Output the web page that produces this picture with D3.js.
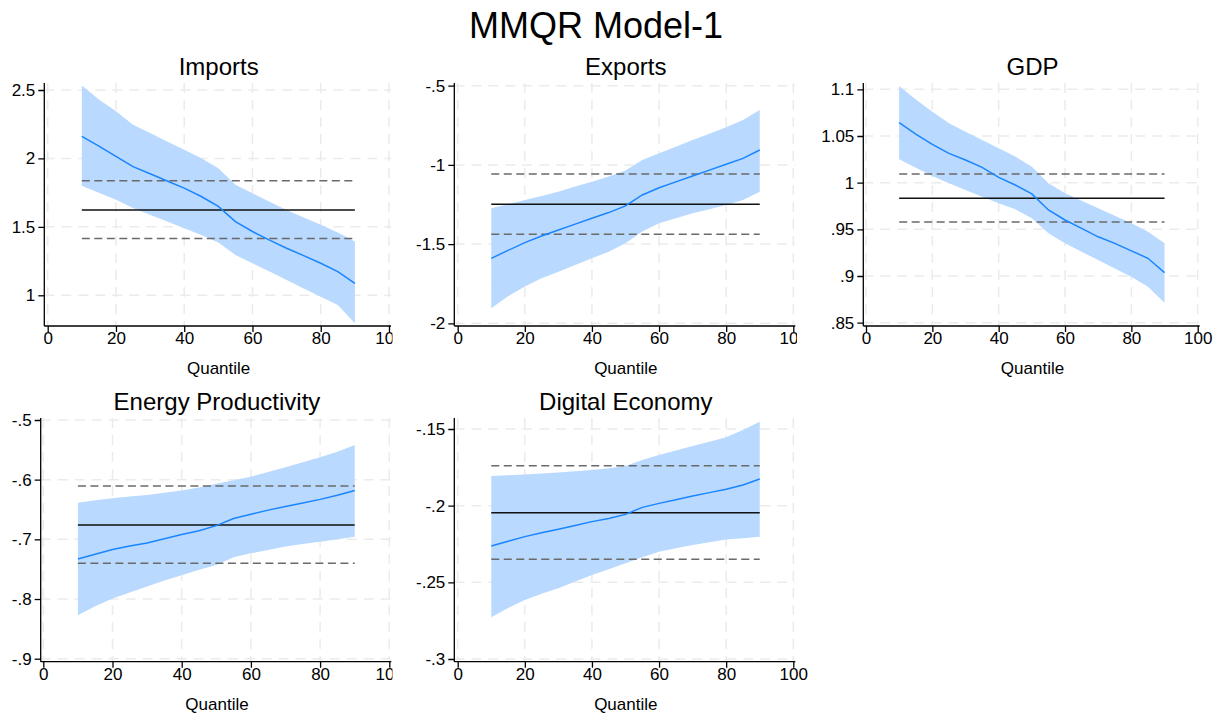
<!DOCTYPE html>
<html>
  <head>
    <meta charset="utf-8">
    <style>
      body { margin: 0; background: #fff; }
      text { font-family: "Liberation Sans", Arial, sans-serif; fill: #000; }
    </style>
  </head>
  <body>
    <script src="https://cdn.jsdelivr.net/npm/d3@7"></script>
    <script>
      // quantiles and estimates
      var quantiles = [10, 15, 20, 25, 30, 35, 40, 45, 50, 55, 60, 65, 70, 75, 80, 85, 90];
      var xTicks = [0, 20, 40, 60, 80, 100];

      var importsCoef = [2.161, 2.09, 2.015, 1.94, 1.888, 1.835, 1.783, 1.722, 1.649, 1.539, 1.466, 1.403, 1.344, 1.29, 1.234, 1.173, 1.088];
      var importsHi = [2.532, 2.43, 2.344, 2.246, 2.185, 2.124, 2.063, 2.002, 1.929, 1.807, 1.746, 1.684, 1.624, 1.568, 1.515, 1.459, 1.393];
      var importsLo = [1.80, 1.75, 1.698, 1.637, 1.588, 1.54, 1.49, 1.441, 1.385, 1.295, 1.234, 1.173, 1.112, 1.05, 0.99, 0.929, 0.795];
      var importsOls = [1.624, 1.415, 1.837];
      var importsTicks = [1, 1.5, 2, 2.5];

      var exportsCoef = [-1.590, -1.54, -1.491, -1.449, -1.411, -1.374, -1.337, -1.301, -1.259, -1.19, -1.144, -1.107, -1.07, -1.033, -0.996, -0.959, -0.906];
      var exportsHi = [-1.274, -1.248, -1.222, -1.196, -1.169, -1.137, -1.106, -1.074, -1.036, -0.969, -0.927, -0.885, -0.843, -0.803, -0.763, -0.717, -0.654];
      var exportsLo = [-1.905, -1.83, -1.768, -1.716, -1.674, -1.632, -1.590, -1.548, -1.495, -1.421, -1.368, -1.337, -1.306, -1.28, -1.253, -1.222, -1.169];
      var exportsOls = [-1.249, -1.438, -1.057];
      var exportsTicks = [-2, -1.5, -1, -0.5];

      var gdpCoef = [1.0643, 1.052, 1.041, 1.0314, 1.0243, 1.0164, 1.0057, 0.9975, 0.9879, 0.9707, 0.96, 0.951, 0.942, 0.935, 0.927, 0.919, 0.9036];
      var gdpHi = [1.1036, 1.089, 1.076, 1.0636, 1.0546, 1.0457, 1.0368, 1.0279, 1.0171, 0.9993, 0.9886, 0.9805, 0.9725, 0.9645, 0.9564, 0.9475, 0.935];
      var gdpLo = [1.025, 1.016, 1.0071, 0.9993, 0.9921, 0.985, 0.9779, 0.9714, 0.9618, 0.9457, 0.935, 0.926, 0.9171, 0.908, 0.8993, 0.8886, 0.8714];
      var gdpOls = [0.9832, 0.9579, 1.0093];
      var gdpTicks = [0.85, 0.9, 0.95, 1, 1.05, 1.1];

      var energyCoef = [-0.733, -0.725, -0.717, -0.711, -0.706, -0.699, -0.692, -0.6855, -0.677, -0.665, -0.658, -0.651, -0.645, -0.639, -0.633, -0.626, -0.618];
      var energyHi = [-0.6385, -0.6345, -0.631, -0.628, -0.6257, -0.622, -0.618, -0.613, -0.607, -0.601, -0.595, -0.587, -0.579, -0.571, -0.5626, -0.553, -0.542];
      var energyLo = [-0.827, -0.812, -0.799, -0.789, -0.779, -0.769, -0.760, -0.751, -0.743, -0.730, -0.7235, -0.718, -0.712, -0.708, -0.704, -0.700, -0.6955];
      var energyOls = [-0.676, -0.740, -0.6106];
      var energyTicks = [-0.9, -0.8, -0.7, -0.6, -0.5];

      var digitalCoef = [-0.2263, -0.2232, -0.2202, -0.2177, -0.2154, -0.2129, -0.2104, -0.2083, -0.2057, -0.2011, -0.1985, -0.1961, -0.1937, -0.1915, -0.1893, -0.1865, -0.1826];
      var digitalHi = [-0.1807, -0.1801, -0.1796, -0.179, -0.1783, -0.1775, -0.1767, -0.1756, -0.1741, -0.1702, -0.167, -0.164, -0.1611, -0.1583, -0.1554, -0.1507, -0.1452];
      var digitalLo = [-0.2728, -0.2668, -0.2615, -0.2575, -0.2539, -0.2495, -0.2452, -0.2414, -0.2376, -0.2337, -0.230, -0.2278, -0.2257, -0.2238, -0.222, -0.2213, -0.2202];
      var digitalOls = [-0.2046, -0.235, -0.1739];
      var digitalTicks = [-0.3, -0.25, -0.2, -0.15];

      // Stata style labels: drop leading zero
      function fmt(v) {
        var s = String(+v.toFixed(3));
        return s.replace(/^(-?)0\./, '$1.');
      }

      var svg = d3.select('body').append('svg')
        .attr('width', 1220).attr('height', 713);

      svg.append('text')
        .attr('x', 596).attr('y', 38)
        .attr('text-anchor', 'middle')
        .style('font-size', '36px')
        .text('MMQR Model-1');

      // layout of each panel (pixel frame)
      var panels = [
        { title: 'Imports', coef: importsCoef, hi: importsHi, lo: importsLo, ols: importsOls, ticks: importsTicks,
          ax: 44.3, x0: 47.7, x100: 389, top: 83, bottom: 326, clipR: 392.5, yA: [1, 295.3], yB: [2.5, 90], titleY: 75 },
        { title: 'Exports', coef: exportsCoef, hi: exportsHi, lo: exportsLo, ols: exportsOls, ticks: exportsTicks,
          ax: 454.3, x0: 457.7, x100: 793.3, top: 83, bottom: 326, clipR: 797, yA: [-2, 323.3], yB: [-0.5, 85.7], titleY: 75 },
        { title: 'GDP', coef: gdpCoef, hi: gdpHi, lo: gdpLo, ols: gdpOls, ticks: gdpTicks,
          ax: 863.3, x0: 866, x100: 1197.7, top: 83, bottom: 326, clipR: 1220, yA: [0.85, 322.7], yB: [1.1, 89.3], titleY: 75 },
        { title: 'Energy Productivity', coef: energyCoef, hi: energyHi, lo: energyLo, ols: energyOls, ticks: energyTicks,
          ax: 40.7, x0: 43.3, x100: 389.3, top: 418, bottom: 661.7, clipR: 392.5, yA: [-0.9, 658.7], yB: [-0.5, 420], titleY: 410 },
        { title: 'Digital Economy', coef: digitalCoef, hi: digitalHi, lo: digitalLo, ols: digitalOls, ticks: digitalTicks,
          ax: 454.3, x0: 457.7, x100: 793.3, top: 418, bottom: 661.7, clipR: 1220, yA: [-0.3, 659], yB: [-0.15, 429], titleY: 410 }
      ];

      panels.forEach(function (p, i) {
        var x = d3.scaleLinear().domain([0, 100]).range([p.x0, p.x100]);
        var y = d3.scaleLinear().domain([p.yA[0], p.yB[0]]).range([p.yA[1], p.yB[1]]);
        var left = p.ax - 45;

        svg.append('clipPath').attr('id', 'clip' + i)
          .append('rect')
          .attr('x', left).attr('y', p.top - 50)
          .attr('width', p.clipR - left).attr('height', 400);

        var g = svg.append('g').attr('clip-path', 'url(#clip' + i + ')');
        var right = p.x100 + 2;

        // grid
        g.selectAll('.vg').data(xTicks).enter().append('line')
          .attr('x1', function (d) { return x(d); }).attr('x2', function (d) { return x(d); })
          .attr('y1', p.top).attr('y2', p.bottom)
          .attr('stroke', '#ebebeb').attr('stroke-width', 1.5)
          .attr('stroke-dasharray', '10,7');
        g.selectAll('.hg').data(p.ticks).enter().append('line')
          .attr('x1', p.ax).attr('x2', right)
          .attr('y1', function (d) { return y(d); }).attr('y2', function (d) { return y(d); })
          .attr('stroke', '#ebebeb').attr('stroke-width', 1.5)
          .attr('stroke-dasharray', '10,7');

        // confidence band
        var idx = d3.range(quantiles.length);
        g.append('path')
          .datum(idx)
          .attr('fill', '#b9d9fe')
          .attr('d', d3.area()
            .x(function (k) { return x(quantiles[k]); })
            .y0(function (k) { return y(p.lo[k]); })
            .y1(function (k) { return y(p.hi[k]); }));

        // OLS estimate and its bounds
        var qMin = d3.min(quantiles), qMax = d3.max(quantiles);
        g.selectAll('.ols').data(p.ols).enter().append('line')
          .attr('x1', x(qMin)).attr('x2', x(qMax))
          .attr('y1', function (d) { return y(d); }).attr('y2', function (d) { return y(d); })
          .attr('stroke', function (d, j) { return j === 0 ? '#111' : '#6a6a6a'; })
          .attr('stroke-width', 1.5)
          .attr('stroke-dasharray', function (d, j) { return j === 0 ? null : '8,4.5'; });

        // quantile estimates
        g.append('path')
          .datum(idx)
          .attr('fill', 'none')
          .attr('stroke', '#1a85ff')
          .attr('stroke-width', 1.5)
          .attr('d', d3.line()
            .x(function (k) { return x(quantiles[k]); })
            .y(function (k) { return y(p.coef[k]); }));

        // axes
        var xAxis = g.append('g')
          .attr('transform', 'translate(0,' + p.bottom + ')')
          .call(d3.axisBottom(x).tickValues(xTicks).tickSize(6).tickSizeOuter(0).tickPadding(0));
        xAxis.select('.domain').remove();
        xAxis.append('line').attr('x1', p.ax).attr('x2', p.x100 + 2)
          .attr('stroke', '#000').attr('stroke-width', 1.3);

        var yAxis = g.append('g')
          .attr('transform', 'translate(' + p.ax + ',0)')
          .call(d3.axisLeft(y).tickValues(p.ticks).tickFormat(fmt).tickSize(6).tickSizeOuter(0).tickPadding(3));
        yAxis.select('.domain').remove();
        yAxis.append('line').attr('y1', p.top).attr('y2', p.bottom)
          .attr('stroke', '#000').attr('stroke-width', 1.3);

        g.selectAll('.tick line').attr('stroke', '#000').attr('stroke-width', 1.3);
        g.selectAll('.tick text').style('font-size', '17px')
          .style('font-family', '"Liberation Sans", Arial, sans-serif').attr('fill', '#000');

        g.append('text')
          .attr('x', (p.ax + p.x100) / 2 + 2).attr('y', p.bottom + 48)
          .attr('text-anchor', 'middle')
          .style('font-size', '17px')
          .text('Quantile');

        svg.append('text')
          .attr('x', (p.ax + p.x100) / 2 + 2).attr('y', p.titleY)
          .attr('text-anchor', 'middle')
          .style('font-size', '24px')
          .text(p.title);
      });
    </script>
  </body>
</html>
